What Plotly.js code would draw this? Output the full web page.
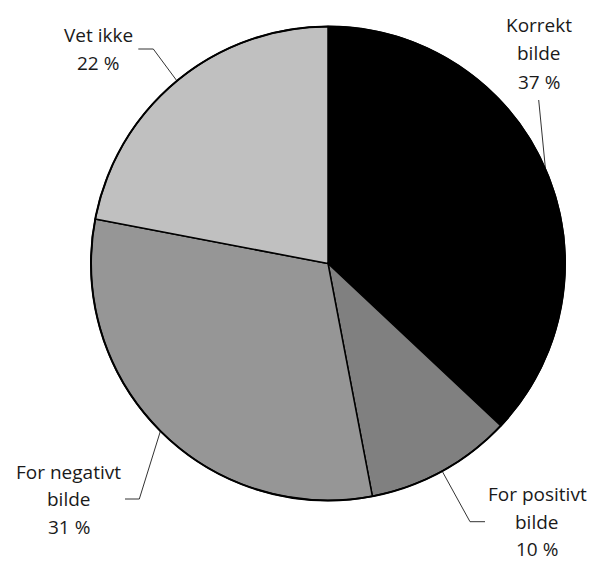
<!DOCTYPE html>
<html>
<head>
<meta charset="utf-8">
<script src="https://cdn.plot.ly/plotly-3.0.1.min.js"></script>
<style>html,body{margin:0;padding:0;background:#fff}#chart{width:596px;height:561px}</style>
</head>
<body>
<div id="chart"></div>
<script>
// ---- data ----
const categories = ['Korrekt bilde', 'For positivt bilde', 'For negativt bilde', 'Vet ikke'];
const values = [37, 10, 31, 22];
const colors = ['#000000', '#808080', '#969696', '#c0c0c0'];

// ---- layout config (pixels) ----
const W = 596, H = 561;
const CX = 328, CY = 263.5, R = 237;
// label centre x, first line centre y, line step
const labelPos = [
  {x: 539, y: 25, step: 28.3},
  {x: 537, y: 494, step: 27.6},
  {x: 68.5, y: 471.7, step: 27.7},
  {x: 98, y: 35, step: 28.3}
];
// leader line bend points after the slice edge point
const leaderPts = [
  [[538.7, 100]],
  [[470, 521.7], [485, 521.7]],
  [[139.3, 499], [125, 499]],
  [[153.3, 49], [138.3, 49]]
];

const px = x => x / W;
const py = y => 1 - y / H;

function wrap(name) {
  const i = name.lastIndexOf(' bilde');
  return i > 0 ? [name.slice(0, i), name.slice(i + 1)] : [name];
}

const total = values.reduce((a, b) => a + b, 0);
const annotations = [];
const shapes = [];
let cum = 0;
values.forEach((v, i) => {
  const theta = 2 * Math.PI * (cum + v / 2) / total;
  cum += v;
  const ex = CX + R * Math.sin(theta);
  const ey = CY - R * Math.cos(theta);
  const pts = [[ex, ey]].concat(leaderPts[i]);
  const path = pts.map((p, k) => (k ? 'L' : 'M') + px(p[0]) + ',' + py(p[1])).join(' ');
  shapes.push({type: 'path', xref: 'paper', yref: 'paper', path: path,
    line: {color: '#333333', width: 1}});
  const lines = wrap(categories[i]).concat([Math.round(100 * v / total) + ' %']);
  lines.forEach((t, k) => {
    annotations.push({
      xref: 'paper', yref: 'paper', x: px(labelPos[i].x), y: py(labelPos[i].y + k * labelPos[i].step),
      xanchor: 'center', yanchor: 'middle', showarrow: false, text: t,
      font: {family: 'Open Sans, sans-serif', size: 19, color: '#1a1a1a'}
    });
  });
});

shapes.push({type: 'circle', xref: 'paper', yref: 'paper',
  x0: px(CX - R), x1: px(CX + R), y0: py(CY + R), y1: py(CY - R),
  line: {color: '#000000', width: 2}});

const trace = {
  type: 'pie',
  labels: categories,
  values: values,
  sort: false,
  direction: 'clockwise',
  rotation: 0,
  textinfo: 'none',
  hoverinfo: 'label+percent',
  marker: {colors: colors, line: {color: '#000000', width: 1.5}},
  domain: {x: [px(CX - R), px(CX + R)], y: [py(CY + R), py(CY - R)]}
};

const layout = {
  width: W, height: H,
  margin: {l: 0, r: 0, t: 0, b: 0},
  showlegend: false,
  paper_bgcolor: '#ffffff',
  annotations: annotations,
  shapes: shapes
};

Plotly.newPlot('chart', [trace], layout, {displayModeBar: false, staticPlot: true});
</script>
</body>
</html>
